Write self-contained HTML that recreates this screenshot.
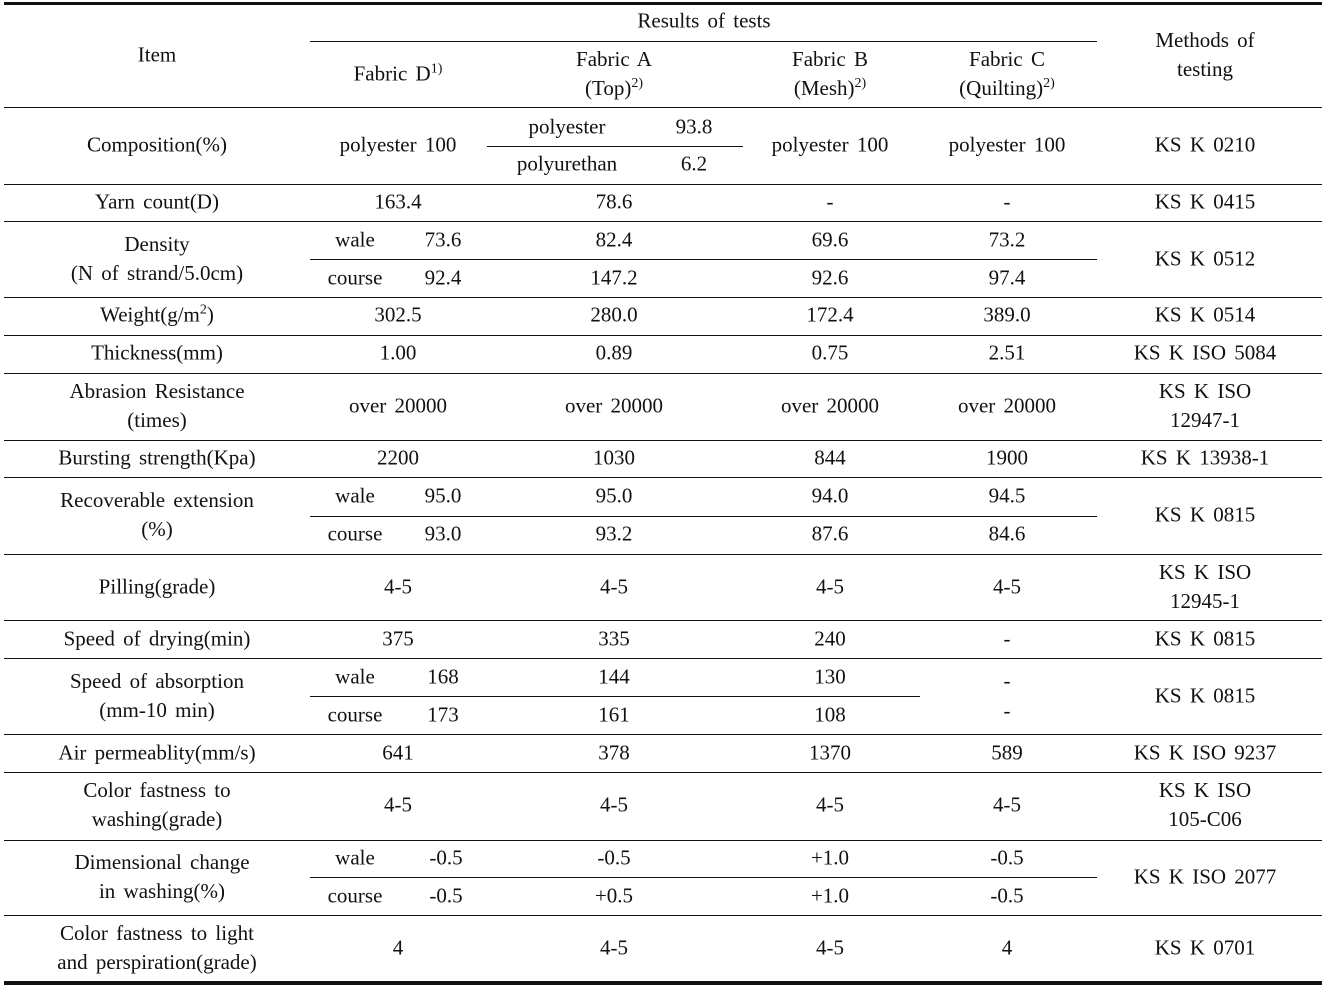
<!DOCTYPE html><html><head><style>
body{margin:0;width:1327px;height:989px;background:#fff;position:relative;overflow:hidden;font-family:"Liberation Serif",serif;font-size:21px;color:#111;word-spacing:3px}
.l{position:absolute;height:1px;background:#111}
.t{position:absolute;transform:translate(-50%,-50%);white-space:nowrap;text-align:center;line-height:29px}
sup{font-size:14px;vertical-align:8px;line-height:0}
</style></head><body>
<div class="l" style="left:4px;width:1318px;top:2px;height:3px"></div>
<div class="l" style="left:310px;width:787px;top:41px"></div>
<div class="l" style="left:4px;width:1318px;top:107px"></div>
<div class="l" style="left:487px;width:256px;top:146px"></div>
<div class="l" style="left:4px;width:1318px;top:184px"></div>
<div class="l" style="left:4px;width:1318px;top:221px"></div>
<div class="l" style="left:310px;width:787px;top:259px"></div>
<div class="l" style="left:4px;width:1318px;top:297px"></div>
<div class="l" style="left:4px;width:1318px;top:335px"></div>
<div class="l" style="left:4px;width:1318px;top:373px"></div>
<div class="l" style="left:4px;width:1318px;top:440px"></div>
<div class="l" style="left:4px;width:1318px;top:477px"></div>
<div class="l" style="left:310px;width:787px;top:516px"></div>
<div class="l" style="left:4px;width:1318px;top:554px"></div>
<div class="l" style="left:4px;width:1318px;top:620px"></div>
<div class="l" style="left:4px;width:1318px;top:658px"></div>
<div class="l" style="left:310px;width:610px;top:696px"></div>
<div class="l" style="left:4px;width:1318px;top:734px"></div>
<div class="l" style="left:4px;width:1318px;top:772px"></div>
<div class="l" style="left:4px;width:1318px;top:840px"></div>
<div class="l" style="left:310px;width:787px;top:877px"></div>
<div class="l" style="left:4px;width:1318px;top:915px"></div>
<div class="l" style="left:4px;width:1318px;top:981px;height:4px"></div>

<div class="t" style="left:157px;top:55px">Item</div>
<div class="t" style="left:704px;top:21px">Results of tests</div>
<div class="t" style="left:1205px;top:55px">Methods of<br>testing</div>
<div class="t" style="left:398px;top:74px">Fabric D<sup>1)</sup></div>
<div class="t" style="left:614px;top:74px">Fabric A<br>(Top)<sup>2)</sup></div>
<div class="t" style="left:830px;top:74px">Fabric B<br>(Mesh)<sup>2)</sup></div>
<div class="t" style="left:1007px;top:74px">Fabric C<br>(Quilting)<sup>2)</sup></div>

<div class="t" style="left:157px;top:145px">Composition(%)</div>
<div class="t" style="left:398px;top:145px">polyester 100</div>
<div class="t" style="left:567px;top:127px">polyester</div>
<div class="t" style="left:694px;top:127px">93.8</div>
<div class="t" style="left:567px;top:164px">polyurethan</div>
<div class="t" style="left:694px;top:164px">6.2</div>
<div class="t" style="left:830px;top:145px">polyester 100</div>
<div class="t" style="left:1007px;top:145px">polyester 100</div>
<div class="t" style="left:1205px;top:145px">KS K 0210</div>

<div class="t" style="left:157px;top:202px">Yarn count(D)</div>
<div class="t" style="left:398px;top:202px">163.4</div>
<div class="t" style="left:614px;top:202px">78.6</div>
<div class="t" style="left:830px;top:202px">-</div>
<div class="t" style="left:1007px;top:202px">-</div>
<div class="t" style="left:1205px;top:202px">KS K 0415</div>

<div class="t" style="left:157px;top:259px">Density<br>(N of strand/5.0cm)</div>
<div class="t" style="left:355px;top:240px">wale</div><div class="t" style="left:443px;top:240px">73.6</div>
<div class="t" style="left:355px;top:278px">course</div><div class="t" style="left:443px;top:278px">92.4</div>
<div class="t" style="left:614px;top:240px">82.4</div><div class="t" style="left:614px;top:278px">147.2</div>
<div class="t" style="left:830px;top:240px">69.6</div><div class="t" style="left:830px;top:278px">92.6</div>
<div class="t" style="left:1007px;top:240px">73.2</div><div class="t" style="left:1007px;top:278px">97.4</div>
<div class="t" style="left:1205px;top:259px">KS K 0512</div>

<div class="t" style="left:157px;top:315px">Weight(g/m<sup>2</sup>)</div>
<div class="t" style="left:398px;top:315px">302.5</div><div class="t" style="left:614px;top:315px">280.0</div><div class="t" style="left:830px;top:315px">172.4</div><div class="t" style="left:1007px;top:315px">389.0</div><div class="t" style="left:1205px;top:315px">KS K 0514</div>

<div class="t" style="left:157px;top:353px">Thickness(mm)</div>
<div class="t" style="left:398px;top:353px">1.00</div><div class="t" style="left:614px;top:353px">0.89</div><div class="t" style="left:830px;top:353px">0.75</div><div class="t" style="left:1007px;top:353px">2.51</div><div class="t" style="left:1205px;top:353px">KS K ISO 5084</div>

<div class="t" style="left:157px;top:406px">Abrasion Resistance<br>(times)</div>
<div class="t" style="left:398px;top:406px">over 20000</div><div class="t" style="left:614px;top:406px">over 20000</div><div class="t" style="left:830px;top:406px">over 20000</div><div class="t" style="left:1007px;top:406px">over 20000</div><div class="t" style="left:1205px;top:406px">KS K ISO<br>12947-1</div>

<div class="t" style="left:157px;top:458px">Bursting strength(Kpa)</div>
<div class="t" style="left:398px;top:458px">2200</div><div class="t" style="left:614px;top:458px">1030</div><div class="t" style="left:830px;top:458px">844</div><div class="t" style="left:1007px;top:458px">1900</div><div class="t" style="left:1205px;top:458px">KS K 13938-1</div>

<div class="t" style="left:157px;top:515px">Recoverable extension<br>(%)</div>
<div class="t" style="left:355px;top:496px">wale</div><div class="t" style="left:443px;top:496px">95.0</div>
<div class="t" style="left:355px;top:534px">course</div><div class="t" style="left:443px;top:534px">93.0</div>
<div class="t" style="left:614px;top:496px">95.0</div><div class="t" style="left:614px;top:534px">93.2</div>
<div class="t" style="left:830px;top:496px">94.0</div><div class="t" style="left:830px;top:534px">87.6</div>
<div class="t" style="left:1007px;top:496px">94.5</div><div class="t" style="left:1007px;top:534px">84.6</div>
<div class="t" style="left:1205px;top:515px">KS K 0815</div>

<div class="t" style="left:157px;top:587px">Pilling(grade)</div>
<div class="t" style="left:398px;top:587px">4-5</div><div class="t" style="left:614px;top:587px">4-5</div><div class="t" style="left:830px;top:587px">4-5</div><div class="t" style="left:1007px;top:587px">4-5</div><div class="t" style="left:1205px;top:587px">KS K ISO<br>12945-1</div>

<div class="t" style="left:157px;top:639px">Speed of drying(min)</div>
<div class="t" style="left:398px;top:639px">375</div><div class="t" style="left:614px;top:639px">335</div><div class="t" style="left:830px;top:639px">240</div><div class="t" style="left:1007px;top:639px">-</div><div class="t" style="left:1205px;top:639px">KS K 0815</div>

<div class="t" style="left:157px;top:696px">Speed of absorption<br>(mm-10 min)</div>
<div class="t" style="left:355px;top:677px">wale</div><div class="t" style="left:443px;top:677px">168</div>
<div class="t" style="left:355px;top:715px">course</div><div class="t" style="left:443px;top:715px">173</div>
<div class="t" style="left:614px;top:677px">144</div><div class="t" style="left:614px;top:715px">161</div>
<div class="t" style="left:830px;top:677px">130</div><div class="t" style="left:830px;top:715px">108</div>
<div class="t" style="left:1007px;top:681px">-</div><div class="t" style="left:1007px;top:711px">-</div>
<div class="t" style="left:1205px;top:696px">KS K 0815</div>

<div class="t" style="left:157px;top:753px">Air permeablity(mm/s)</div>
<div class="t" style="left:398px;top:753px">641</div><div class="t" style="left:614px;top:753px">378</div><div class="t" style="left:830px;top:753px">1370</div><div class="t" style="left:1007px;top:753px">589</div><div class="t" style="left:1205px;top:753px">KS K ISO 9237</div>

<div class="t" style="left:157px;top:805px">Color fastness to<br>washing(grade)</div>
<div class="t" style="left:398px;top:805px">4-5</div><div class="t" style="left:614px;top:805px">4-5</div><div class="t" style="left:830px;top:805px">4-5</div><div class="t" style="left:1007px;top:805px">4-5</div><div class="t" style="left:1205px;top:805px">KS K ISO<br>105-C06</div>

<div class="t" style="left:162px;top:877px">Dimensional change<br>in washing(%)</div>
<div class="t" style="left:355px;top:858px">wale</div><div class="t" style="left:446px;top:858px">-0.5</div>
<div class="t" style="left:355px;top:896px">course</div><div class="t" style="left:446px;top:896px">-0.5</div>
<div class="t" style="left:614px;top:858px">-0.5</div><div class="t" style="left:614px;top:896px">+0.5</div>
<div class="t" style="left:830px;top:858px">+1.0</div><div class="t" style="left:830px;top:896px">+1.0</div>
<div class="t" style="left:1007px;top:858px">-0.5</div><div class="t" style="left:1007px;top:896px">-0.5</div>
<div class="t" style="left:1205px;top:877px">KS K ISO 2077</div>

<div class="t" style="left:157px;top:948px">Color fastness to light<br>and perspiration(grade)</div>
<div class="t" style="left:398px;top:948px">4</div><div class="t" style="left:614px;top:948px">4-5</div><div class="t" style="left:830px;top:948px">4-5</div><div class="t" style="left:1007px;top:948px">4</div><div class="t" style="left:1205px;top:948px">KS K 0701</div>
</body></html>
